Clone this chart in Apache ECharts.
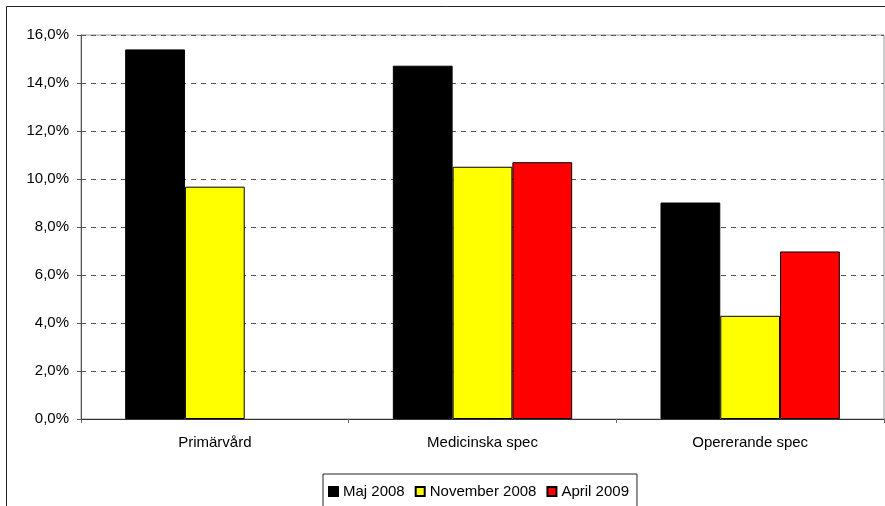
<!DOCTYPE html>
<html>
<head>
<meta charset="utf-8">
<script src="https://cdn.jsdelivr.net/npm/echarts@6/dist/echarts.min.js"></script>
<style>
  html, body { margin: 0; padding: 0; background: #fff; }
  #chart-area { width: 885px; height: 506px; }
</style>
</head>
<body>
<div id="chart-area"></div>
<script>
const categories = ['Primärvård', 'Medicinska spec', 'Opererande spec'];
const maj2008 = [15.4, 14.72, 9.02];
const nov2008 = [9.68, 10.51, 4.3];
const apr2009 = [null, 10.7, 6.98];
const seriesNames = ['Maj 2008', 'November 2008', 'April 2009'];
const seriesColors = ['#000000', '#ffff00', '#ff0000'];

let chartDom = document.getElementById('chart-area');
let myChart = echarts.init(chartDom);

const font = 'Liberation Sans, Arial, sans-serif';

function barSeries(name, data, color) {
  return {
    name: name,
    type: 'bar',
    barGap: '0%',
    barCategoryGap: '33%',
    itemStyle: {
      color: color,
      borderColor: '#000',
      borderWidth: 1
    },
    emphasis: { disabled: true },
    data: data
  };
}

let option = {
  animation: false,
  graphic: [
    {
      type: 'rect',
      shape: { x: 6.5, y: 6.5, width: 1000, height: 1000 },
      style: { fill: 'none', stroke: '#222', lineWidth: 1 },
      silent: true
    }
  ],
  grid: {
    left: 81,
    top: 35,
    right: 1,
    bottom: 87,
    show: true,
    borderColor: '#999',
    borderWidth: 1
  },
  legend: {
    data: seriesNames,
    left: 323,
    top: 474,
    icon: 'rect',
    itemWidth: 9,
    itemHeight: 9,
    itemGap: 10,
    padding: [10, 8, 10, 5],
    borderColor: '#222',
    borderWidth: 1,
    textStyle: { fontFamily: font, fontSize: 15, color: '#000' }
  },
  xAxis: {
    type: 'category',
    data: categories,
    axisLine: { lineStyle: { color: '#333', width: 1 } },
    axisTick: { show: true, length: 4, lineStyle: { color: '#666' } },
    axisLabel: { fontFamily: font, fontSize: 15, color: '#000', margin: 16 }
  },
  yAxis: {
    type: 'value',
    min: 0,
    max: 16,
    interval: 2,
    axisLine: { show: true, lineStyle: { color: '#555', width: 1 } },
    axisTick: { show: true, length: 4, lineStyle: { color: '#555' } },
    axisLabel: {
      fontFamily: font,
      fontSize: 15,
      color: '#000',
      margin: 12,
      formatter: function (v) { return v.toFixed(1).replace('.', ',') + '%'; }
    },
    splitLine: { lineStyle: { color: '#555', type: [5, 5], width: 1 } }
  },
  series: [
    barSeries(seriesNames[0], maj2008, seriesColors[0]),
    barSeries(seriesNames[1], nov2008, seriesColors[1]),
    barSeries(seriesNames[2], apr2009, seriesColors[2])
  ]
};

option && myChart.setOption(option);
</script>
</body>
</html>
